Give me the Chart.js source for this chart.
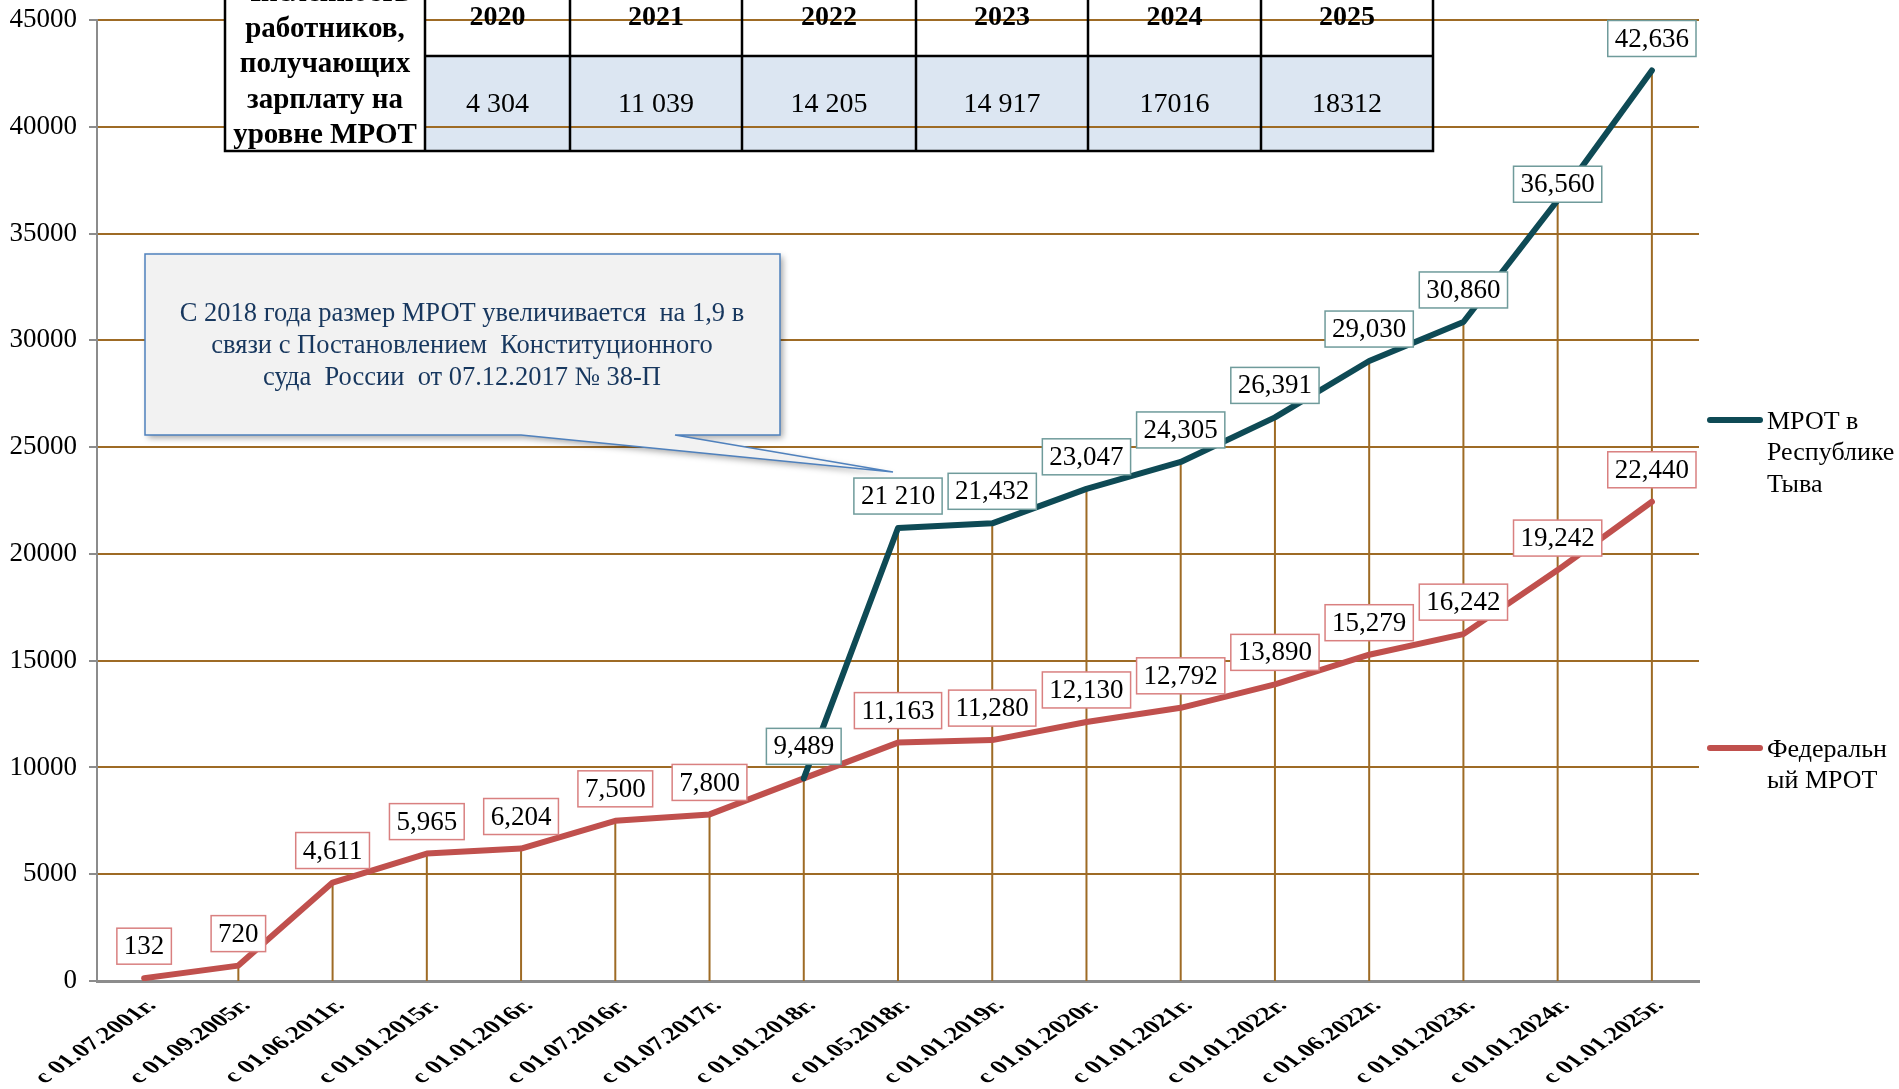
<!DOCTYPE html>
<html>
<head>
<meta charset="utf-8">
<script src="https://cdn.jsdelivr.net/npm/chart.js@4.4.1/dist/chart.umd.min.js"></script>
<style>
  html, body { margin: 0; padding: 0; background: #fff; }
  #wrap { position: relative; width: 1899px; height: 1089px; }
</style>
</head>
<body>
<div id="wrap"><canvas id="mrotChart" width="1899" height="1089"></canvas></div>
<script>
// data
const categories = ['с 01.07.2001г.', 'с 01.09.2005г.', 'с 01.06.2011г.', 'с 01.01.2015г.', 'с 01.01.2016г.',
  'с 01.07.2016г.', 'с 01.07.2017г.', 'с 01.01.2018г.', 'с 01.05.2018г.', 'с 01.01.2019г.', 'с 01.01.2020г.',
  'с 01.01.2021г.', 'с 01.01.2022г.', 'с 01.06.2022г.', 'с 01.01.2023г.', 'с 01.01.2024г.', 'с 01.01.2025г.'];
const tuvaValues = [null, null, null, null, null, null, null, 9489, 21210, 21432, 23047, 24305, 26391, 29030, 30860, 36560, 42636];
const federalValues = [132, 720, 4611, 5965, 6204, 7500, 7800, 9489, 11163, 11280, 12130, 12792, 13890, 15279, 16242, 19242, 22440];
const yTicks = [0, 5000, 10000, 15000, 20000, 25000, 30000, 35000, 40000, 45000];

const tableYears = ['2020', '2021', '2022', '2023', '2024', '2025'];
const tableWorkers = ['4 304', '11 039', '14 205', '14 917', '17016', '18312'];
const tableHeader = ['Численность', 'работников,', 'получающих', 'зарплату на', 'уровне МРОТ'];

const calloutText = ['С 2018 года размер МРОТ увеличивается  на 1,9 в',
  'связи с Постановлением  Конституционного',
  'суда  России  от 07.12.2017 № 38-П'];

const legendItems = [
  { lines: ['МРОТ в', 'Республике', 'Тыва'], color: '#0e4a55', y: 420 },
  { lines: ['Федеральн', 'ый МРОТ'], color: '#c0504d', y: 748 }
];

const SERIF = '"Liberation Serif", "Times New Roman", serif';
const BROWN = '#9e6b25';
const GREY = '#8c8c8c';

// table geometry (px)
const colEdges = [225, 425, 570, 742, 916, 1088, 1261, 1433];
const rowTop = -21, rowMid = 56, rowBottom = 151;

// label tweaks as in the source
const tuvaLabelText = { 8: '21 210' };
const tuvaLabelNudge = { 15: 16 };

function fmt(v) {
  return v.toLocaleString('en-US');
}

const tableBack = {
  id: 'tableBack',
  beforeDraw(chart) {
    const ctx = chart.ctx;
    ctx.save();
    ctx.fillStyle = '#fff';
    ctx.fillRect(0, 0, chart.width, chart.height);
    ctx.fillStyle = '#dce6f2';
    ctx.fillRect(colEdges[1], rowMid, colEdges[colEdges.length - 1] - colEdges[1], rowBottom - rowMid);
    ctx.restore();
  }
};

const dropLinesAndTable = {
  id: 'dropLinesAndTable',
  beforeDatasetsDraw(chart) {
    const ctx = chart.ctx;
    const x = chart.scales.x, y = chart.scales.y;
    const area = chart.chartArea;
    ctx.save();
    // drop lines
    ctx.strokeStyle = BROWN;
    ctx.lineWidth = 2;
    categories.forEach((c, i) => {
      const vals = [tuvaValues[i], federalValues[i]].filter(v => v != null);
      const top = y.getPixelForValue(Math.max(...vals));
      const px = x.getPixelForValue(i);
      ctx.beginPath();
      ctx.moveTo(px, top);
      ctx.lineTo(px, area.bottom);
      ctx.stroke();
    });

    // table: header cell
    ctx.fillStyle = '#fff';
    ctx.fillRect(colEdges[0], rowTop, colEdges[1] - colEdges[0], rowBottom - rowTop);
    ctx.strokeStyle = '#000';
    ctx.lineWidth = 2.5;
    ctx.strokeRect(colEdges[0], rowTop, colEdges[colEdges.length - 1] - colEdges[0], rowBottom - rowTop);
    ctx.beginPath();
    for (let i = 1; i < colEdges.length - 1; i++) {
      ctx.moveTo(colEdges[i], rowTop);
      ctx.lineTo(colEdges[i], rowBottom);
    }
    ctx.moveTo(colEdges[1], rowMid);
    ctx.lineTo(colEdges[colEdges.length - 1], rowMid);
    ctx.stroke();

    ctx.fillStyle = '#000';
    ctx.textAlign = 'center';
    ctx.textBaseline = 'middle';
    ctx.font = 'bold 29px ' + SERIF;
    const hx = (colEdges[0] + colEdges[1]) / 2;
    tableHeader.forEach((t, i) => ctx.fillText(t, hx, -6 + i * 35.5));
    ctx.font = 'bold 28px ' + SERIF;
    tableYears.forEach((t, i) => ctx.fillText(t, (colEdges[i + 1] + colEdges[i + 2]) / 2, 18));
    ctx.font = '28px ' + SERIF;
    tableWorkers.forEach((t, i) => ctx.fillText(t, (colEdges[i + 1] + colEdges[i + 2]) / 2, 105));
    ctx.restore();
  }
};

function drawLabel(ctx, text, cx, cy, border) {
  ctx.font = '27px ' + SERIF;
  const w = ctx.measureText(text).width + 14;
  const h = 36;
  ctx.fillStyle = '#fff';
  ctx.fillRect(cx - w / 2, cy - h / 2, w, h);
  ctx.strokeStyle = border;
  ctx.lineWidth = 1.5;
  ctx.strokeRect(cx - w / 2, cy - h / 2, w, h);
  ctx.fillStyle = '#000';
  ctx.textAlign = 'center';
  ctx.textBaseline = 'middle';
  ctx.fillText(text, cx, cy + 1);
}

const calloutAndLabels = {
  id: 'calloutAndLabels',
  afterDatasetsDraw(chart) {
    const ctx = chart.ctx;
    const x = chart.scales.x, y = chart.scales.y;
    ctx.save();

    // callout pointing at the 2018 jump
    const tipX = x.getPixelForValue(8) - 5;
    const tipY = y.getPixelForValue(tuvaValues[8]) - 56;
    const bx0 = 145, by0 = 254, bx1 = 780, by1 = 435;
    ctx.beginPath();
    ctx.moveTo(bx0, by0);
    ctx.lineTo(bx1, by0);
    ctx.lineTo(bx1, by1);
    ctx.lineTo(675, by1);
    ctx.lineTo(tipX, tipY);
    ctx.lineTo(521, by1);
    ctx.lineTo(bx0, by1);
    ctx.closePath();
    ctx.shadowColor = 'rgba(0,0,0,0.35)';
    ctx.shadowBlur = 6;
    ctx.shadowOffsetX = 3;
    ctx.shadowOffsetY = 3;
    ctx.fillStyle = '#f2f2f2';
    ctx.fill();
    ctx.shadowColor = 'transparent';
    ctx.strokeStyle = '#4f81bd';
    ctx.lineWidth = 1.5;
    ctx.stroke();
    ctx.fillStyle = '#17375e';
    ctx.font = '26.5px ' + SERIF;
    ctx.textAlign = 'center';
    ctx.textBaseline = 'middle';
    calloutText.forEach((t, i) => ctx.fillText(t, 462, 314 + i * 32));

    // data labels
    tuvaValues.forEach((v, i) => {
      if (v == null) return;
      const text = tuvaLabelText[i] || fmt(v);
      const dy = -32 + (tuvaLabelNudge[i] || 0);
      drawLabel(ctx, text, x.getPixelForValue(i), y.getPixelForValue(v) + dy, '#6f9b9b');
    });
    federalValues.forEach((v, i) => {
      if (tuvaValues[i] === v) return;
      drawLabel(ctx, fmt(v), x.getPixelForValue(i), y.getPixelForValue(v) - 32, '#d98080');
    });
    ctx.restore();
  }
};

// slanted category labels (rotated 45deg, then stretched sideways like the source)
const slantLabels = {
  id: 'slantLabels',
  afterDraw(chart) {
    const ctx = chart.ctx;
    const x = chart.scales.x;
    const base = chart.chartArea.bottom;
    ctx.save();
    ctx.fillStyle = '#000';
    ctx.font = 'bold 19px ' + SERIF;
    ctx.textAlign = 'right';
    ctx.textBaseline = 'middle';
    categories.forEach((c, i) => {
      ctx.save();
      ctx.translate(x.getPixelForValue(i) + 8, base + 22);
      ctx.transform(1.45, 0, 0, 1, 0, 0);
      ctx.rotate(-Math.PI / 4);
      ctx.fillText(c, 0, 0);
      ctx.restore();
    });
    ctx.restore();
  }
};

const sideLegend = {
  id: 'sideLegend',
  afterDraw(chart) {
    const ctx = chart.ctx;
    ctx.save();
    legendItems.forEach(item => {
      ctx.strokeStyle = item.color;
      ctx.lineWidth = 6;
      ctx.lineCap = 'round';
      ctx.beginPath();
      ctx.moveTo(1710, item.y);
      ctx.lineTo(1760, item.y);
      ctx.stroke();
      ctx.fillStyle = '#000';
      ctx.font = '26px ' + SERIF;
      ctx.textAlign = 'left';
      ctx.textBaseline = 'middle';
      item.lines.forEach((t, i) => ctx.fillText(t, 1767, item.y + 2 + i * 31.5));
    });
    ctx.restore();
  }
};

const ctx = document.getElementById('mrotChart').getContext('2d');
const chart = new Chart(ctx, {
  type: 'line',
  data: {
    labels: categories,
    datasets: [
      {
        label: 'МРОТ в Республике Тыва',
        data: tuvaValues,
        borderColor: '#0e4a55',
        borderWidth: 6,
        pointRadius: 0,
        tension: 0,
        borderCapStyle: 'round',
        borderJoinStyle: 'round'
      },
      {
        label: 'Федеральный МРОТ',
        data: federalValues,
        borderColor: '#c0504d',
        borderWidth: 6,
        pointRadius: 0,
        tension: 0,
        borderCapStyle: 'round',
        borderJoinStyle: 'round'
      }
    ]
  },
  options: {
    responsive: false,
    animation: false,
    layout: { padding: { top: 20, right: 200, left: 0, bottom: 0 } },
    plugins: {
      legend: { display: false },
      tooltip: { enabled: false }
    },
    scales: {
      x: {
        offset: true,
        grid: { display: false, drawTicks: false },
        border: { color: GREY, width: 3 },
        ticks: { display: false, autoSkip: false },
        afterFit(s) { s.height = 108; }
      },
      y: {
        min: 0,
        max: 45000,
        afterBuildTicks(s) { s.ticks = yTicks.map(v => ({ value: v })); },
        grid: { color: BROWN, lineWidth: 2, tickColor: GREY, tickLength: 8 },
        border: { color: GREY, width: 2 },
        ticks: {
          color: '#000',
          font: { family: SERIF, size: 27 },
          padding: 12,
          callback: v => String(v)
        },
        afterFit(s) {
          s.width = 97;
          s.paddingTop = 0;
          s.paddingBottom = 0;
        }
      }
    }
  },
  plugins: [tableBack, dropLinesAndTable, calloutAndLabels, slantLabels, sideLegend]
});
</script>
</body>
</html>
